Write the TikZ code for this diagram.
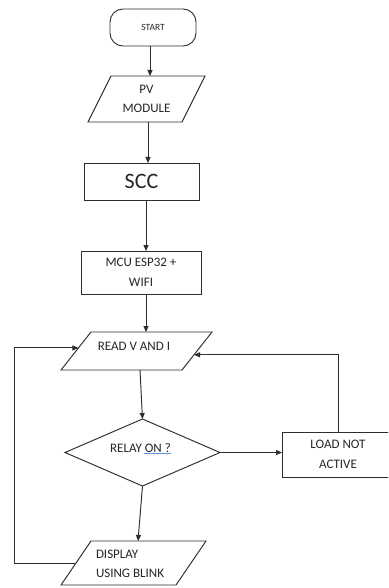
\documentclass[tikz,border=0pt]{standalone}
\usepackage{fontspec}
\setmainfont{Carlito}
\usetikzlibrary{arrows.meta,shapes.geometric,calc}
\definecolor{ink}{HTML}{2E2E2E}
\definecolor{txtink}{HTML}{262626}
\definecolor{squig}{HTML}{5B8FD6}
\begin{document}
\begin{tikzpicture}[x=1pt,y=-1pt,
  line/.style={draw=ink,line width=0.95pt},
  arr/.style={line,-{Triangle[length=6pt,width=5pt]}},
  boxnode/.style={draw=ink,line width=0.95pt,inner sep=0pt,outer sep=0pt,text=txtink,align=center,font=\fontsize{13}{19.5}\selectfont},
  txt/.style={inner sep=0pt,outer sep=0pt,text=txtink,align=center,font=\fontsize{13}{19.5}\selectfont}]
\fill[white] (0,0) rectangle (388,588);
\useasboundingbox (0,0) rectangle (388,588);
\clip (0,0) rectangle (388,588);

% START
\node[boxnode, rounded corners=13pt, minimum width=86pt, minimum height=37pt, font=\fontsize{9.5}{12}\selectfont] (start) at (153,27.5) {START};

% PV MODULE
\node[txt, minimum width=117pt, minimum height=46pt] (pv) at (146.5,99) {PV\\MODULE};
\draw[line] ([xshift=23pt]pv.north west) -- (pv.north east) -- ([xshift=-23pt]pv.south east) -- (pv.south west) -- cycle;

% SCC
\node[boxnode, minimum width=115pt, minimum height=37pt, font=\fontsize{22}{24}\selectfont] (scc) at (141.5,181.5) {SCC};

% MCU
\node[boxnode, minimum width=120pt, minimum height=43pt] (mcu) at (141,272.5) {MCU ESP32 +\\WIFI};

% READ V AND I
\node[txt, minimum width=151pt, minimum height=38pt] (read) at (136.5,351) {};
\draw[line] ([xshift=30pt]read.north west) -- (read.north east) -- ([xshift=-30pt]read.south east) -- (read.south west) -- cycle;
\node[txt] (readlbl) at (134,346) {READ V AND I};
\coordinate (readL) at ($([xshift=30pt]read.north west)!0.42!(read.south west)$);
\coordinate (readR) at ($(read.north east)!0.6!([xshift=-30pt]read.south east)$);

% RELAY ON ?
\node[draw=ink, line width=0.95pt, diamond, minimum width=155pt, minimum height=67pt, inner sep=0pt, outer sep=0pt] (relay) at (142.5,452.5) {};
\node[txt] (relaylbl) at (140.5,448) {RELAY ON ?};
\draw[squig, line width=1pt] ([yshift=-1.5pt]relaylbl.south east) -- ++(-27,0);

% LOAD NOT ACTIVE
\node[boxnode, minimum width=112pt, minimum height=45pt] (load) at (338,454.5) {LOAD NOT\\ACTIVE};

% DISPLAY USING BLINK
\node[txt, minimum width=145pt, minimum height=44pt] (display) at (133.5,563) {};
\draw[line] ([xshift=30pt]display.north west) -- (display.north east) -- ([xshift=-30pt]display.south east) -- (display.south west) -- cycle;
\node[txt, align=left, anchor=west] (displbl) at (96,564) {DISPLAY\\USING BLINK};
\coordinate (dispL) at ($([xshift=30pt]display.north west)!0.52!(display.south west)$);
\coordinate (loopx) at (14,0);

% connectors
\draw[arr] ([xshift=-3pt]start.south) -- ([xshift=3.5pt]pv.north);
\draw[arr] ([xshift=1.5pt]pv.south) -- ([xshift=6.5pt]scc.north);
\draw[arr] ([xshift=4.5pt]scc.south) -- ([xshift=5pt]mcu.north);
\draw[arr] ([xshift=5pt]mcu.south) -- ([xshift=9.5pt]read.north);
\draw[arr] ([xshift=3.5pt]read.south) -- (relay.north);
\draw[arr] (relay.east) -- (relay.east -| load.west);
\draw[arr] (relay.south) -- ([xshift=4.5pt]display.north);
\draw[arr] (load.north) |- (readR);
\draw[arr] (dispL) -- (dispL -| loopx) |- (readL);
\end{tikzpicture}
\end{document}
